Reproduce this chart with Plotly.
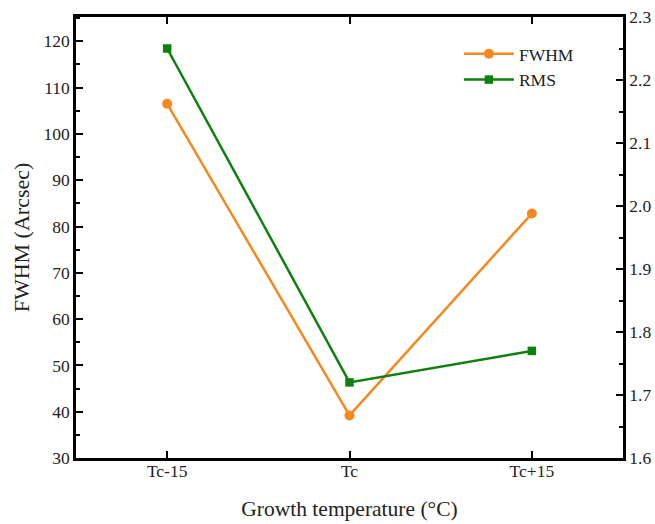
import plotly.graph_objects as go

categories = ["Tc-15", "Tc", "Tc+15"]
fwhm = [106.5, 39.2, 82.8]
rms = [2.25, 1.72, 1.77]

font = "Liberation Serif, Times New Roman, serif"
orange = "#F5881F"
green = "#0E800E"

fig = go.Figure()
fig.add_trace(go.Scatter(x=categories, y=fwhm, name="FWHM", mode="lines+markers",
                         line=dict(color=orange, width=2.5),
                         marker=dict(symbol="circle", size=10, color=orange)))
fig.add_trace(go.Scatter(x=categories, y=rms, name="RMS", mode="lines+markers", yaxis="y2",
                         line=dict(color=green, width=2.5),
                         marker=dict(symbol="square", size=8.5, color=green)))

axis_common = dict(showline=True, linecolor="black", linewidth=2.5, ticks="inside",
                   ticklen=7, tickwidth=2, tickcolor="black", showgrid=False, zeroline=False,
                   automargin=False,
                   tickfont=dict(family=font, size=17.5, color="#222"))

fig.update_layout(
    width=655, height=524,
    margin=dict(l=76, r=32, t=17, b=66),
    plot_bgcolor="white", paper_bgcolor="white",
    font=dict(family=font, color="#222"),
    showlegend=True,
    legend=dict(x=0.7, y=0.957, xanchor="left", yanchor="top", bgcolor="rgba(0,0,0,0)",
                font=dict(family=font, size=17.5, color="#222"), itemwidth=50,
                tracegroupgap=0),
    xaxis=dict(**axis_common, range=[-0.5, 2.5], mirror="allticks", ticklabelstandoff=-5,
               minor=dict(ticks="inside", ticklen=4, tickwidth=2, tickcolor="black", dtick=1, tick0=0.5),
               title=dict(text="Growth temperature (°C)", font=dict(family=font, size=21.5, color="#222"),
                          standoff=22)),
    yaxis=dict(**axis_common, range=[30, 125.25], dtick=10, tick0=30,
               minor=dict(ticks="inside", ticklen=4, tickwidth=2, tickcolor="black", dtick=5),
               title=dict(text="FWHM (Arcsec)", font=dict(family=font, size=22, color="#222"),
                          standoff=8)),
    yaxis2=dict(**axis_common, overlaying="y", side="right", range=[1.6, 2.3], dtick=0.1, tick0=1.6,
                tickformat=".1f",
                minor=dict(ticks="inside", ticklen=4, tickwidth=2, tickcolor="black", dtick=0.05)),
)

fig.write_html("out.html", config={"displayModeBar": False},
               post_script="document.body.style.margin='0';document.body.style.padding='0';document.body.style.overflow='hidden';")
